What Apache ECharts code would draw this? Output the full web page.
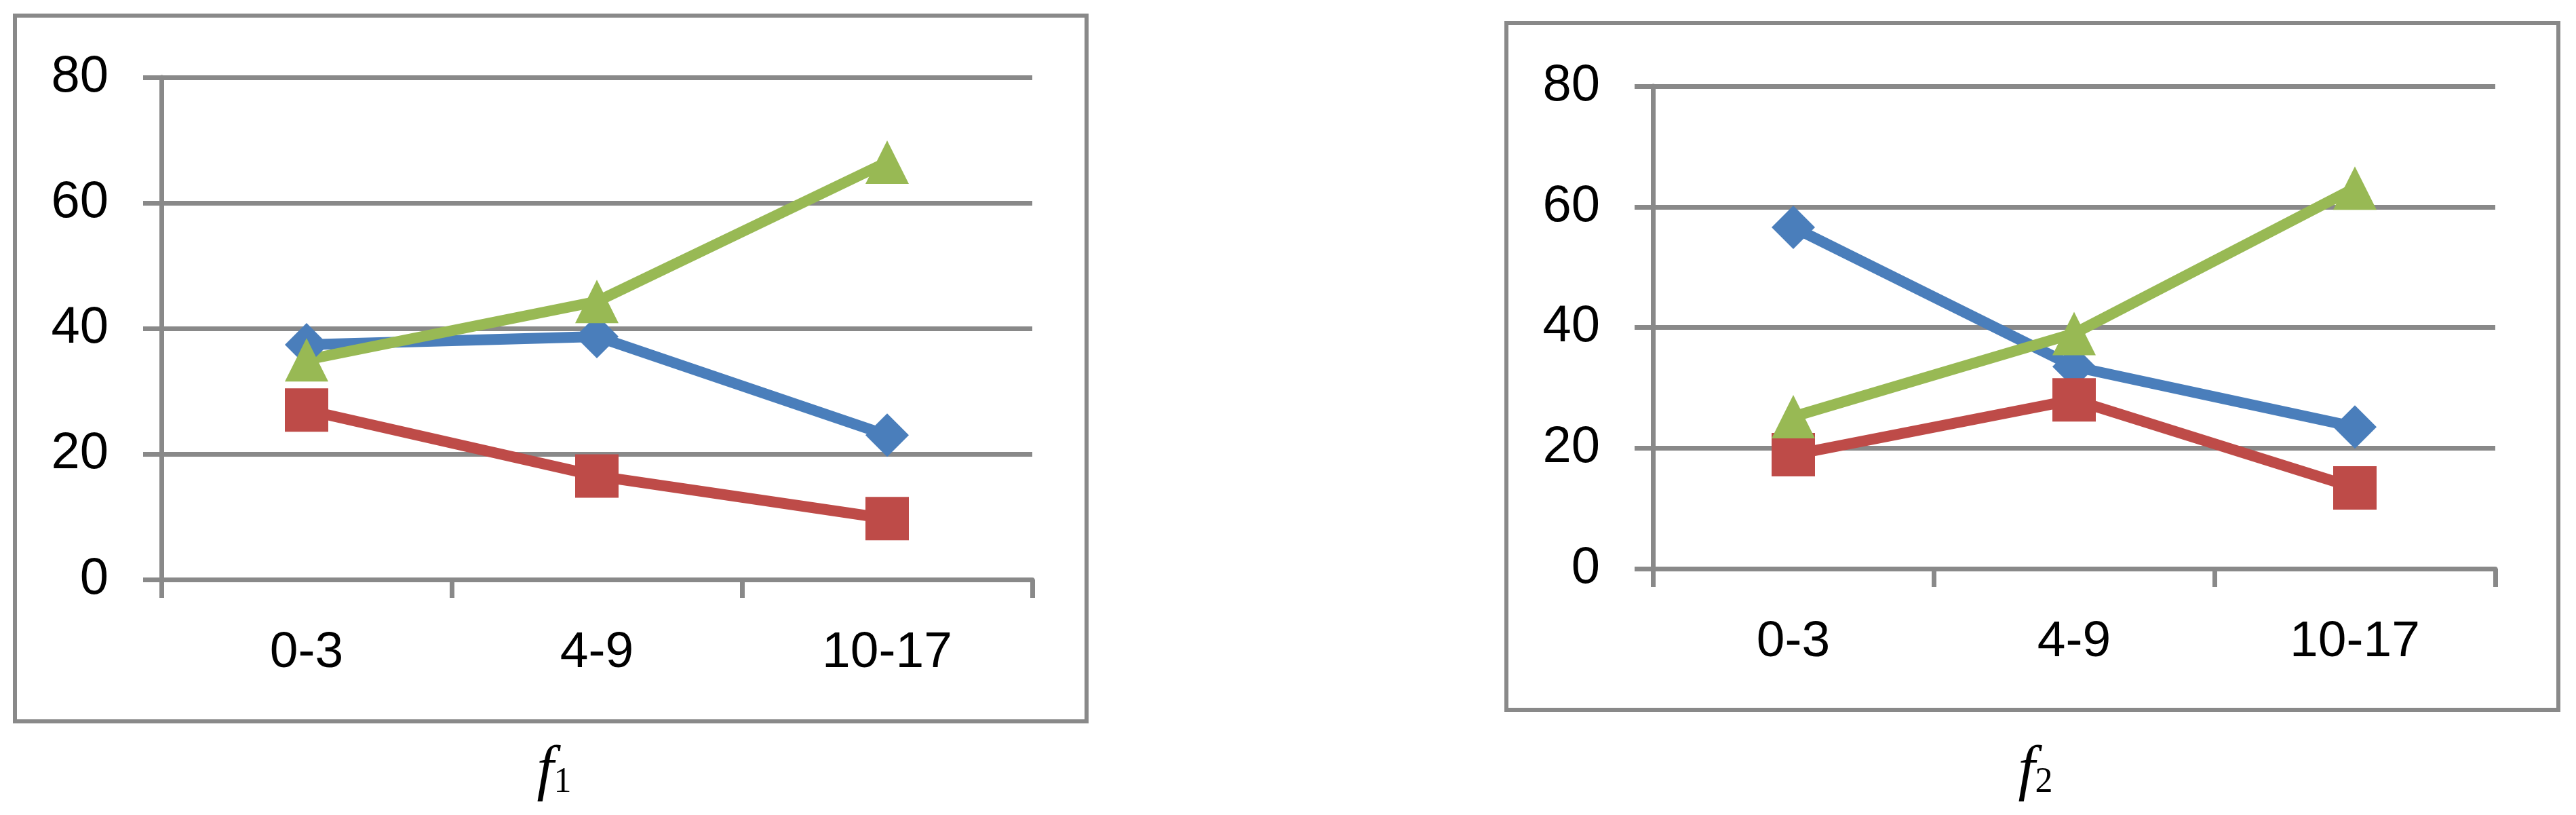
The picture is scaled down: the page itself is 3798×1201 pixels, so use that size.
<!DOCTYPE html>
<html><head><meta charset="utf-8">
<script src="https://cdn.jsdelivr.net/npm/echarts@6/dist/echarts.min.js"></script>
<style>html,body{margin:0;padding:0;background:#fff}#c{width:3798px;height:1201px}</style>
</head><body><div id="c"></div>
<script>
// ---- data ----
const categories = ['0-3', '4-9', '10-17'];
const yTickLabels = ['0', '20', '40', '60', '80'];
const f1Blue  = [37.4, 38.7, 23.0];
const f1Red   = [27.0, 16.5, 9.7];
const f1Green = [35.0, 44.3, 66.5];
const f2Blue  = [56.6, 33.5, 23.5];
const f2Red   = [18.9, 28.0, 13.4];
const f2Green = [25.2, 39.0, 63.1];
const panelSubscripts = ['1', '2'];

// ---- styling ----
const GRAY = '#898989';
const BLUE = '#4A7EBB', RED = '#BE4B48', GREEN = '#98B954';
const FONT = 'Liberation Sans';

const grids = [
  {left: 238, top: 114, width: 1284, height: 740},
  {left: 2437, top: 127, width: 1242, height: 711}
];

function xAxis(i) {
  return {
    type: 'category', gridIndex: i, data: categories, boundaryGap: true,
    axisLine: {show: true, lineStyle: {color: GRAY, width: 7}},
    axisTick: {show: true, inside: false, length: 27, alignWithLabel: false, lineStyle: {color: GRAY, width: 7}},
    axisLabel: {color: '#000', fontFamily: FONT, fontSize: 75, margin: 71},
    splitLine: {show: false}
  };
}
function yAxis(i) {
  return {
    type: 'value', gridIndex: i, min: 0, max: 80, interval: 20,
    axisLine: {show: true, lineStyle: {color: GRAY, width: 7}},
    axisTick: {show: true, inside: false, length: 27, lineStyle: {color: GRAY, width: 7}},
    axisLabel: {color: '#000', fontFamily: FONT, fontSize: 76, margin: 78,
      formatter: function (v) { return yTickLabels[Math.round(v / 20)]; }},
    splitLine: {show: true, lineStyle: {color: GRAY, width: 7}}
  };
}
function line(i, data, color, symbol) {
  return {
    type: 'line', xAxisIndex: i, yAxisIndex: i, data: data,
    symbol: symbol, symbolSize: 64, showSymbol: true,
    lineStyle: {color: color, width: 16},
    itemStyle: {color: color, borderWidth: 0},
    emphasis: {disabled: true}, silent: true
  };
}

const chart = echarts.init(document.getElementById('c'), null, {renderer: 'canvas'});
chart.setOption({
  backgroundColor: '#fff',
  animation: false,
  grid: grids,
  xAxis: [xAxis(0), xAxis(1)],
  yAxis: [yAxis(0), yAxis(1)],
  title: [0, 1].map(function (i) {
    return {
      text: '{f|f}{s|' + panelSubscripts[i] + '}',
      left: i === 0 ? 812 : 2996, top: 1088, textAlign: 'center',
      textStyle: {
        fontWeight: 'normal',
        rich: {
          f: {fontFamily: 'Liberation Serif', fontStyle: 'italic', fontWeight: 'normal', fontSize: 90, color: '#000', verticalAlign: 'bottom'},
          s: {fontFamily: 'Liberation Serif', fontWeight: 'normal', fontSize: 52, color: '#000', verticalAlign: 'bottom', padding: [0, 0, 4, 0]}
        }
      }
    };
  }),
  graphic: [
    {type: 'rect', shape: {x: 22, y: 23, width: 1580, height: 1040}, style: {fill: 'none', stroke: GRAY, lineWidth: 6}, z: -1},
    {type: 'rect', shape: {x: 2221, y: 34, width: 1551, height: 1012}, style: {fill: 'none', stroke: GRAY, lineWidth: 6}, z: -1}
  ],
  series: [
    line(0, f1Blue, BLUE, 'diamond'),
    line(0, f1Red, RED, 'rect'),
    line(0, f1Green, GREEN, 'triangle'),
    line(1, f2Blue, BLUE, 'diamond'),
    line(1, f2Red, RED, 'rect'),
    line(1, f2Green, GREEN, 'triangle')
  ]
});
</script>
</body></html>
